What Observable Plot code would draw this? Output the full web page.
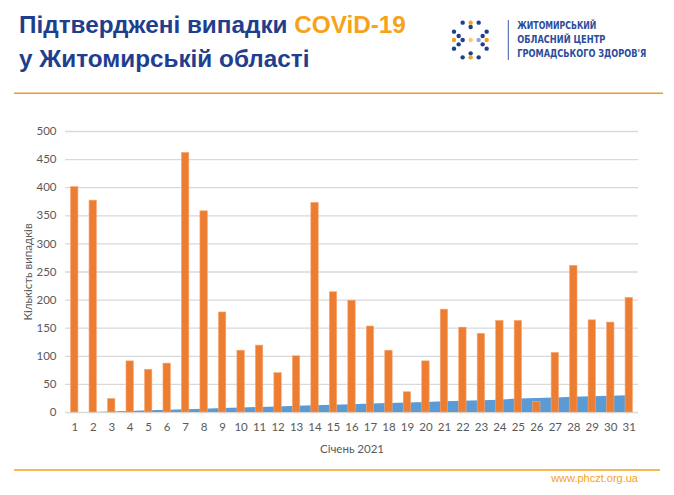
<!DOCTYPE html>
<html><head><meta charset="utf-8">
<script src="https://cdn.jsdelivr.net/npm/d3@7"></script>
<script src="https://cdn.jsdelivr.net/npm/@observablehq/plot@0.6"></script>
<style>
html,body{margin:0;padding:0;background:#fff;}
#page{position:relative;width:674px;height:495px;overflow:hidden;background:#fff;}
#header{position:absolute;left:0;top:0;}
#chart{position:absolute;left:0;top:100px;}
#footer{position:absolute;left:0;top:460px;}
</style></head><body>
<div id="page">
<svg id="header" width="674" height="100" xmlns="http://www.w3.org/2000/svg">
  <g font-family="Liberation Sans, Arial, sans-serif" font-weight="bold" font-size="24.3" fill="#1f3e8e">
    <text x="19" y="33">Підтверджені випадки <tspan fill="#F7A21B">COViD-19</tspan></text>
    <text x="19" y="67">у Житомирській області</text>
  </g>
  <line x1="14" x2="663" y1="93.3" y2="93.3" stroke="#EB9A2E" stroke-width="1.5"/>
  <g id="logo"></g>
  <line x1="508.3" x2="508.3" y1="20" y2="60" stroke="#3a5aa8" stroke-width="1"/>
  <g font-family="DejaVu Sans Condensed, Liberation Sans Narrow, sans-serif" font-weight="bold" font-size="10.5" fill="#2b4c9b">
    <text x="517.3" y="29.3" textLength="79" lengthAdjust="spacingAndGlyphs">ЖИТОМИРСЬКИЙ</text>
    <text x="517.3" y="43.3" textLength="88" lengthAdjust="spacingAndGlyphs">ОБЛАСНИЙ ЦЕНТР</text>
    <text x="517.3" y="56.7" textLength="129" lengthAdjust="spacingAndGlyphs">ГРОМАДСЬКОГО ЗДОРОВ'Я</text>
  </g>
</svg>
<div id="chart"></div>
<svg id="footer" width="674" height="35" xmlns="http://www.w3.org/2000/svg">
  <line x1="14" x2="660" y1="10" y2="10" stroke="#F9A01B" stroke-width="1.5"/>
  <text x="638" y="22" text-anchor="end" font-family="Liberation Sans, Arial, sans-serif" font-size="11" fill="#F5A31A">www.phczt.org.ua</text>
</svg>
</div>
<script>
// Data (January 2021, Zhytomyr oblast)
const days = [1,2,3,4,5,6,7,8,9,10,11,12,13,14,15,16,17,18,19,20,21,22,23,24,25,26,27,28,29,30,31];
const cases = [401,377,24,91,76,87,462,358,178,110,119,70,100,373,214,199,153,110,36,91,183,151,140,163,163,19,106,261,164,160,204];
const lower = [0,0,1,2,3,4,5,6,7,8,9,10,11,12,13,14,15,16,17,18,19,20,21,22,24,25,26,27,28,29,30];
const yTicks = [0,50,100,150,200,250,300,350,400,450,500];
const xTitle = "Січень 2021";
const yTitle = "Кількість випадків";

// logo dots (decorative)
const logoDots = [
  [68,68,"b"],[92,68,"o"],[116,68,"b"],
  [92,81,"b"],
  [42,95,"b"],[140,95,"b"],
  [56,108,"b"],[128,108,"b"],
  [42,120,"o"],[68,120,"b"],[92,120,"lo"],[116,120,"lb"],[140,120,"o"],
  [56,133,"b"],[128,133,"b"],
  [42,146,"b"],[140,146,"b"],
  [92,160,"b"],
  [68,172,"b"],[92,172,"o"],[116,172,"b"]
];
const dotCol = {b:"#1f3e8e", o:"#F7A21B", lo:"#F9C97A", lb:"#8FA8D8"};
const logo = document.getElementById("logo");
for (const [zx, zy, c] of logoDots) {
  const el = document.createElementNS("http://www.w3.org/2000/svg", "circle");
  el.setAttribute("cx", 440 + zx / 3);
  el.setAttribute("cy", zy / 3);
  el.setAttribute("r", 2.2);
  el.setAttribute("fill", dotCol[c]);
  logo.appendChild(el);
}

const data = days.map((d, i) => ({day: d, cases: cases[i], lower: lower[i]}));

const chart = Plot.plot({
  width: 674,
  height: 360,
  marginLeft: 65,
  marginRight: 36,
  marginTop: 31,
  marginBottom: 48,
  style: {fontFamily: "Lato, sans-serif", fontSize: "11.5px", color: "#595959", background: "transparent"},
  x: {
    type: "linear",
    domain: [0.5, 31.5],
    ticks: days,
    tickFormat: d => String(d),
    tickSize: 0,
    tickPadding: 10,
    label: null
  },
  y: {
    domain: [0, 500],
    ticks: yTicks,
    tickSize: 0,
    tickPadding: 9,
    label: null
  },
  marks: [
    Plot.ruleY(yTicks, {stroke: "#D9D9D9", strokeWidth: 1.3}),
    Plot.areaY(data, {x: "day", y: "lower", fill: "#5B9BD5"}),
    Plot.rectY(data, {x1: d => d.day - 0.2, x2: d => d.day + 0.2, y: "cases", fill: "#ED7D31", stroke: "#F5A878", strokeWidth: 0.6}),
    Plot.text([yTitle], {text: d => d, frameAnchor: "left", textAnchor: "middle", lineAnchor: "middle", rotate: -90, dx: -37, fontSize: 11.5, fill: "#595959"}),
    Plot.text([xTitle], {text: d => d, frameAnchor: "bottom", textAnchor: "middle", lineAnchor: "middle", dy: 37, fontSize: 11.5, fill: "#595959"})
  ]
});
document.getElementById("chart").appendChild(chart);
</script>
</body></html>
